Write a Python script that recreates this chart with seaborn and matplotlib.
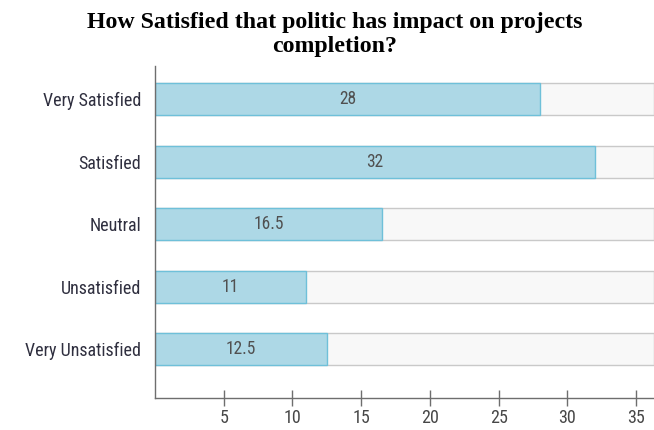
import matplotlib
matplotlib.use("Agg")
import matplotlib.pyplot as plt
from matplotlib import font_manager
from matplotlib.font_manager import FontProperties
import seaborn as sns
import pandas as pd

categories = ["Very Satisfied", "Satisfied", "Neutral", "Unsatisfied", "Very Unsatisfied"]
values = [28, 32, 16.5, 11, 12.5]
value_labels = ["28", "32", "16.5", "11", "12.5"]
x_ticks = [5, 10, 15, 20, 25, 30, 35]
x_max = 36.3

title = "How Satisfied that politic has impact on projects\ncompletion?"

sns.set_theme(style="white")
plt.rcParams["font.family"] = ["Liberation Sans", "DejaVu Sans"]


def find_narrow_font():
    """Return the path of a condensed sans-serif face, if one is installed."""
    prefs = ["liberation sans narrow", "roboto condensed", "open sans condensed",
             "noto sans condensed", "dejavu sans condensed", "dejavu sans"]
    found = {}
    for f in font_manager.fontManager.ttflist:
        fname = f.fname.lower()
        name = f.name.lower()
        if f.style != "normal" or f.weight not in (400, "normal", "regular"):
            continue
        if "bold" in fname or "italic" in fname or "light" in fname or "medium" in fname:
            continue
        narrow = ("narrow" in fname or "condensed" in fname or "narrow" in name
                  or "condensed" in name or f.stretch in ("condensed", "semi-condensed"))
        if not narrow:
            continue
        for p in prefs:
            if name.startswith(p.split(" condensed")[0].split(" narrow")[0]):
                found.setdefault(p, f.fname)
                break
    for p in prefs:
        if p in found:
            return found[p]
    return None


narrow_path = find_narrow_font()


def label_font(size):
    if narrow_path:
        return FontProperties(fname=narrow_path, size=size)
    return FontProperties(family="Liberation Sans", size=size)


df = pd.DataFrame({"category": categories, "value": values})
track = pd.DataFrame({"category": categories, "value": [x_max] * len(categories)})

fig = plt.figure(figsize=(6.54, 4.30), dpi=100)
ax = fig.add_axes([0.237, 0.074, 0.763, 0.772])

# size the label face so the longest category name spans about 121 px
renderer = fig.canvas.get_renderer()
probe = fig.text(0, 0, "Very Unsatisfied", fontproperties=label_font(13))
w = probe.get_window_extent(renderer).width
probe.remove()
base = min(13.0, 13.0 * 121.0 / w)

# grey tracks behind each bar
sns.barplot(data=track, x="value", y="category", order=categories, orient="h",
            color="#f8f8f8", edgecolor="#c9c9c9", linewidth=1.0, width=0.51,
            saturation=1, ax=ax, zorder=1)
# value bars
sns.barplot(data=df, x="value", y="category", order=categories, orient="h",
            color="#add8e6", edgecolor="#6fc0d9", linewidth=1.0, width=0.51,
            saturation=1, ax=ax, zorder=2)

for i, (v, lab) in enumerate(zip(values, value_labels)):
    ax.text(v / 2, i, lab, ha="center", va="center",
            fontproperties=label_font(base * 0.97), color="#505050", zorder=3)

ax.set_xlim(0, x_max)
ax.set_ylim(4.78, -0.53)
ax.set_xticks(x_ticks)
ax.set_xticklabels([str(t) for t in x_ticks])
ax.set_xlabel("")
ax.set_ylabel("")

for side in ["top", "right"]:
    ax.spines[side].set_visible(False)
for side in ["left", "bottom"]:
    ax.spines[side].set_color("#6e6e6e")
    ax.spines[side].set_linewidth(1.0)

ax.tick_params(axis="x", direction="inout", length=11, width=1.0, color="#6e6e6e",
               labelcolor="#474747", pad=2, bottom=True)
ax.tick_params(axis="y", length=0, labelcolor="#2f2f3f", pad=10)
for t in ax.get_xticklabels():
    t.set_fontproperties(label_font(base))
for t in ax.get_yticklabels():
    t.set_fontproperties(label_font(base))

fig.text(0.512, 0.973, title, ha="center", va="top", fontsize=17.2,
         fontweight="bold", family=["Liberation Serif", "DejaVu Serif"],
         linespacing=1.2, color="black")

fig.savefig("out.png", dpi=100)
